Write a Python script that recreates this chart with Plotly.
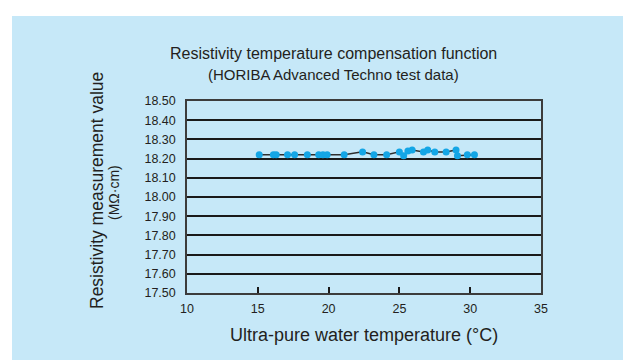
import plotly.graph_objects as go

temperature = [15.1, 16.1, 16.3, 17.1, 17.6, 18.5, 19.3, 19.6, 19.9, 21.1, 22.4, 23.2,
               24.1, 25.0, 25.3, 25.6, 25.9, 26.7, 27.0, 27.5, 28.3, 29.0, 29.1, 29.8, 30.3]
resistivity = [18.22, 18.22, 18.22, 18.22, 18.22, 18.22, 18.22, 18.22, 18.22, 18.22, 18.235, 18.22,
               18.22, 18.235, 18.215, 18.24, 18.245, 18.235, 18.245, 18.235, 18.235, 18.245, 18.215, 18.22, 18.22]
x_ticks = [10, 15, 20, 25, 30, 35]

W, H = 631, 360
L, R, T, B = 179, 98, 93, 75
pw, ph = W - L - R, H - T - B

def px(x):
    return (x - L) / pw

def py(y):
    return (H - B - y) / ph

TXT = "#231f20"
FONT = "Liberation Sans, Arial, sans-serif"

fig = go.Figure()
fig.add_trace(go.Scatter(
    x=temperature, y=resistivity, mode="lines+markers",
    line=dict(color="#2e2e2e", width=1.5),
    marker=dict(color="#14a6e6", size=7),
    showlegend=False, cliponaxis=False,
))

fig.update_layout(
    width=W, height=H,
    margin=dict(l=L, r=R, t=T, b=B, pad=0),
    paper_bgcolor="white",
    plot_bgcolor="white",
    font=dict(family=FONT, color=TXT, size=12),
    shapes=[
        dict(type="rect", xref="paper", yref="paper",
             x0=px(4), x1=px(W), y0=py(H), y1=py(8),
             fillcolor="#c6e8f8", line=dict(width=0), layer="below"),
    ],
    annotations=[
        dict(text="Resistivity temperature compensation function", xref="paper", yref="paper",
             x=px(325), y=py(46), showarrow=False, font=dict(size=16, color=TXT),
             xanchor="center", yanchor="middle"),
        dict(text="(HORIBA Advanced Techno test data)", xref="paper", yref="paper",
             x=px(325), y=py(66), showarrow=False, font=dict(size=15, color=TXT),
             xanchor="center", yanchor="middle"),
        dict(text="Ultra-pure water temperature (°C)", xref="paper", yref="paper",
             x=0.5, y=py(327), showarrow=False, font=dict(size=18, color=TXT),
             xanchor="center", yanchor="middle"),
        dict(text="Resistivity measurement value", xref="paper", yref="paper",
             x=px(89), y=py(183), showarrow=False, font=dict(size=17.5, color=TXT),
             textangle=-90, xanchor="center", yanchor="middle"),
        dict(text="(MΩ·cm)", xref="paper", yref="paper",
             x=px(106), y=py(185), showarrow=False, font=dict(size=14, color=TXT),
             textangle=-90, xanchor="center", yanchor="middle"),
    ],
)

fig.update_xaxes(
    range=[10, 35], tickvals=x_ticks, ticktext=[str(v) for v in x_ticks],
    showgrid=False, zeroline=False,
    ticks="inside", ticklen=6, tickwidth=2, tickcolor="#1a1a1a",
    showline=True, linecolor="#3c3c3c", linewidth=1.5, mirror=True,
    tickfont=dict(size=12.5, color=TXT), ticklabelstandoff=3,
)
fig.update_yaxes(
    range=[17.5, 18.5], dtick=0.1, tick0=17.5, tickformat=".2f",
    showgrid=True, gridcolor="#1a1a1a", gridwidth=2, zeroline=False,
    ticks="", ticklabelstandoff=7,
    showline=True, linecolor="#3c3c3c", linewidth=1.5, mirror=True,
    tickfont=dict(size=12.5, color=TXT),
)

fig.write_html("out.html")
